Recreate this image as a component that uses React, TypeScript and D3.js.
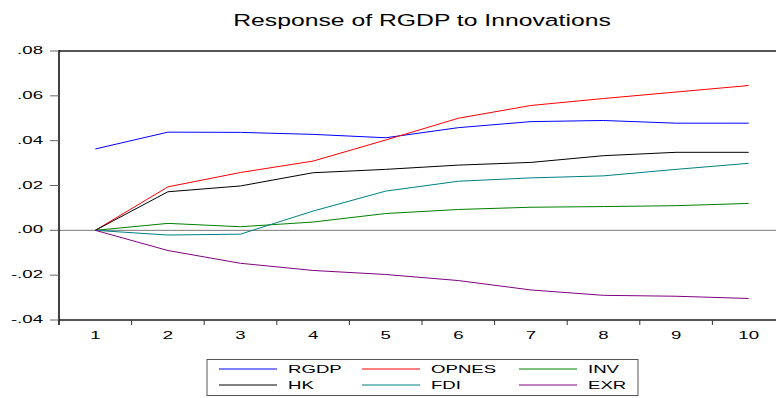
import React, { useEffect, useRef } from 'react';
import * as d3 from 'd3';

// impulse response periods
const periods = ['1', '2', '3', '4', '5', '6', '7', '8', '9', '10'];

const rgdp = [0.0363, 0.0438, 0.0437, 0.0428, 0.0413, 0.0458, 0.0485, 0.049, 0.0478, 0.0478];
const opnes = [0, 0.0194, 0.0258, 0.0309, 0.0403, 0.05, 0.0557, 0.0588, 0.0617, 0.0646];
const inv = [0, 0.0031, 0.0016, 0.0037, 0.0075, 0.0093, 0.0103, 0.0106, 0.011, 0.012];
const hk = [0, 0.0172, 0.0198, 0.0257, 0.0272, 0.0291, 0.0303, 0.0333, 0.0348, 0.0348];
const fdi = [0, -0.0021, -0.0017, 0.0086, 0.0175, 0.0219, 0.0234, 0.0243, 0.0272, 0.0299];
const exr = [0, -0.009, -0.0147, -0.0179, -0.0197, -0.0224, -0.0266, -0.029, -0.0294, -0.0304];

const yTicks = [-0.04, -0.02, 0, 0.02, 0.04, 0.06, 0.08];
const yTickLabels = ['-.04', '-.02', '.00', '.02', '.04', '.06', '.08'];

const seriesNames = ['RGDP', 'OPNES', 'INV', 'HK', 'FDI', 'EXR'];
const seriesColors = ['#0000ff', '#ff0000', '#008000', '#000000', '#008080', '#800080'];
const seriesValues = [rgdp, opnes, inv, hk, fdi, exr];

export default function App() {
  const ref = useRef<SVGSVGElement>(null);

  useEffect(() => {
    const svg = d3.select(ref.current);
    svg.selectAll('*').remove();

    const left = 59, top = 51, bottom = 320, right = 785;
    const font = 'Arial, "Liberation Sans", sans-serif';

    const x = d3.scaleBand().domain(periods).range([left, right]);
    const y = d3.scaleLinear().domain([-0.04, 0.08]).range([bottom, top]);

    // stretched text like the eviews output
    const txt = (s: string, tx: number, ty: number, size: number, sx: number, anchor: string) =>
      svg.append('text')
        .attr('transform', `translate(${tx},${ty}) scale(${sx},1)`)
        .attr('text-anchor', anchor)
        .attr('font-family', font)
        .attr('font-size', size)
        .attr('fill', '#000')
        .text(s);

    txt('Response of RGDP to Innovations', 422, 26, 16.5, 1.5, 'middle');

    // zero line
    svg.append('line')
      .attr('x1', left).attr('x2', right)
      .attr('y1', y(0)).attr('y2', y(0))
      .attr('stroke', '#777').attr('stroke-width', 1);

    // frame
    svg.append('line')
      .attr('x1', left).attr('x2', right).attr('y1', top).attr('y2', top)
      .attr('stroke', '#555').attr('stroke-width', 2);
    svg.append('line')
      .attr('x1', left).attr('x2', right).attr('y1', bottom).attr('y2', bottom)
      .attr('stroke', '#555').attr('stroke-width', 2);
    svg.append('line')
      .attr('x1', left).attr('x2', left).attr('y1', top - 1).attr('y2', bottom + 5)
      .attr('stroke', '#000').attr('stroke-width', 1.5);

    // y ticks
    yTicks.forEach((t, i) => {
      svg.append('line')
        .attr('x1', left - 9).attr('x2', left)
        .attr('y1', y(t)).attr('y2', y(t))
        .attr('stroke', '#666').attr('stroke-width', 1);
      txt(yTickLabels[i], 43, y(t) + 3, 11.5, 1.62, 'end');
    });

    // x ticks at band edges
    periods.forEach((p) => {
      const x0 = x(p) as number;
      svg.append('line')
        .attr('x1', x0).attr('x2', x0)
        .attr('y1', bottom).attr('y2', bottom + 5)
        .attr('stroke', '#333').attr('stroke-width', 1);
      txt(p, x0 + x.bandwidth() / 2, 338.5, 11.5, 1.62, 'middle');
    });

    const line = d3.line<number>()
      .x((_, i) => (x(periods[i]) as number) + x.bandwidth() / 2)
      .y((d) => y(d));

    seriesValues.forEach((vals, i) => {
      svg.append('path')
        .attr('d', line(vals))
        .attr('fill', 'none')
        .attr('stroke', seriesColors[i])
        .attr('stroke-width', 1);
    });

    // legend
    svg.append('rect')
      .attr('x', 207).attr('y', 359.5).attr('width', 431).attr('height', 36)
      .attr('fill', '#fff').attr('stroke', '#555').attr('stroke-width', 1);

    const colX = [219, 362, 519];
    const rowY = [369, 385];
    seriesNames.forEach((name, i) => {
      const cx = colX[i % 3];
      const ry = rowY[Math.floor(i / 3)];
      svg.append('line')
        .attr('x1', cx).attr('x2', cx + 58)
        .attr('y1', ry).attr('y2', ry)
        .attr('stroke', seriesColors[i]).attr('stroke-width', 1);
      txt(name, cx + 69, ry + 3.5, 11.5, 1.62, 'start');
    });
  }, []);

  return (
    <svg ref={ref} width={776} height={398}
      style={{ position: 'absolute', left: 0, top: 0, background: '#fff' }} />
  );
}
